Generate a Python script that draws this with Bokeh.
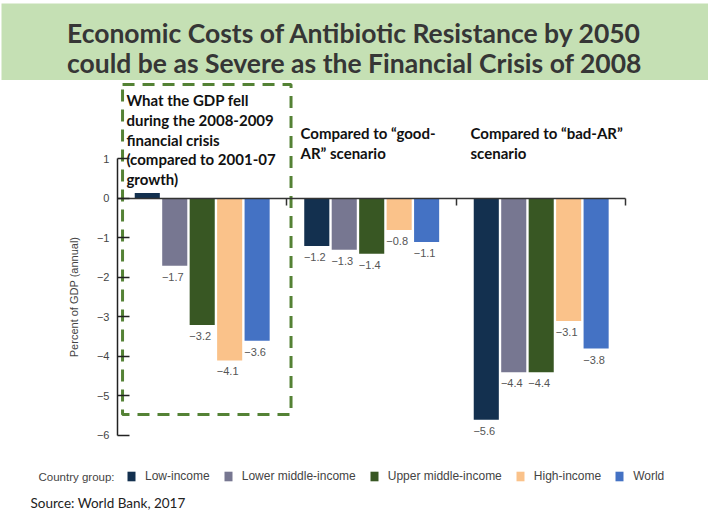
from bokeh.plotting import figure
from bokeh.models import Range1d, LinearAxis, FixedTicker, Legend, LegendItem, Label
from bokeh.layouts import column
from bokeh.core.properties import value
from bokeh.embed import file_html
from bokeh.resources import INLINE

# ---------------- data ----------------
TITLE_LINES = ["Economic Costs of Antibiotic Resistance by 2050",
               "could be as Severe as the Financial Crisis of 2008"]
GROUP_CENTERS = [0.5, 1.5, 2.5]   # crisis 2008-09, vs good-AR, vs bad-AR
SERIES = ["Low-income", "Lower middle-income", "Upper middle-income", "High-income", "World"]
COLORS = ["#13304f", "#777791", "#385723", "#fac28a", "#4472c4"]
low_income = [0.14, -1.2, -5.6]
lower_middle_income = [-1.7, -1.3, -4.4]
upper_middle_income = [-3.2, -1.4, -4.4]
high_income = [-4.1, -0.8, -3.1]
world = [-3.6, -1.1, -3.8]
Y_TICKS = [1, 0, -1, -2, -3, -4, -5, -6]
Y_TICK_LABELS = ["1", "0", "\u22121", "\u22122", "\u22123", "\u22124", "\u22125", "\u22126"]
NOTES = ["What the GDP fell\nduring the 2008-2009\nfinancial crisis\n(compared to 2001-07\ngrowth)",
         "Compared to \u201cgood-\nAR\u201d scenario",
         "Compared to \u201cbad-AR\u201d\nscenario"]
NOTE_X = [0.053, 1.08, 2.083]
NOTE_Y = [2.72, 1.88, 1.88]
# dashed frame around the crisis group
BOX = dict(left=0.03, right=1.024, top=2.886, bottom=-5.468)

W = 708
ARIAL = "Liberation Sans"

# ---------------- banner (pixel-like ranges) ----------------
banner = figure(width=W, height=80, x_range=Range1d(0, 708), y_range=Range1d(80, 0),
                output_backend="svg", toolbar_location=None, min_border=0,
                x_axis_type=None, y_axis_type=None,
                background_fill_color="white", border_fill_color="white",
                outline_line_color=None)
banner.quad(left=[1], right=[708], top=[3], bottom=[80], fill_color="#c5e0b4", line_color=None)
banner.text(x=[354, 354], y=[32, 62], text=TITLE_LINES,
            text_align="center", text_baseline="middle",
            text_font=value("Lato"), text_font_size="26.5px", text_font_style="bold",
            text_color="#363636")

# ---------------- chart ----------------
chart = figure(width=W, height=430,
               x_range=Range1d(-0.690, 3.487), y_range=Range1d(-7.899, 2.987),
               output_backend="svg", toolbar_location=None, min_border=0,
               x_axis_type=None, y_axis_type=None, outline_line_color=None,
               background_fill_color="white", border_fill_color="white")

yaxis = LinearAxis(fixed_location=0, bounds=(-6, 1),
                   ticker=FixedTicker(ticks=Y_TICKS),
                   major_label_overrides=dict(zip(Y_TICKS, Y_TICK_LABELS)),
                   axis_label="Percent of GDP (annual)",
                   major_tick_in=12, major_tick_out=0,
                   minor_tick_in=0, minor_tick_out=0,
                   axis_line_width=1.5, axis_line_color="#222222",
                   major_tick_line_width=1.5, major_tick_line_color="#222222",
                   major_label_standoff=8, axis_label_standoff=14,
                   major_label_text_font=ARIAL, major_label_text_font_size="11px",
                   major_label_text_color="#444444",
                   axis_label_text_font=ARIAL, axis_label_text_font_size="11px",
                   axis_label_text_font_style="normal", axis_label_text_color="#444444")
chart.add_layout(yaxis, "left")

xaxis = LinearAxis(fixed_location=0, bounds=(0, 3),
                   ticker=FixedTicker(ticks=[1, 2, 3]),
                   major_label_overrides={1: "", 2: "", 3: ""},
                   major_tick_in=0, major_tick_out=7,
                   minor_tick_in=0, minor_tick_out=0,
                   axis_line_width=1.5, axis_line_color="#333333",
                   major_tick_line_width=1.5, major_tick_line_color="#333333",
                   major_label_text_font_size="1px")
chart.add_layout(xaxis, "below")

series_values = [low_income, lower_middle_income, upper_middle_income, high_income, world]
offsets = [-0.324, -0.162, 0.0, 0.162, 0.324]
items = []
for name, vals, color, off in zip(SERIES, series_values, COLORS, offsets):
    xs = [g + off for g in GROUP_CENTERS]
    r = chart.vbar(x=xs, top=vals, bottom=0, width=0.148,
                   fill_color=color, line_color=None)
    items.append(LegendItem(label=name, renderers=[r]))
    labels = ["\u2212%.1f" % abs(v) if v < 0 else "" for v in vals]
    chart.text(x=xs, y=vals, text=labels, text_align="center", text_baseline="top",
               x_offset=-2, y_offset=7, text_font=value(ARIAL),
               text_font_size="11px", text_color="#555555")

chart.quad(left=[BOX["left"]], right=[BOX["right"]], top=[BOX["top"]], bottom=[BOX["bottom"]],
           fill_color=None, line_color="#548235", line_width=3, line_dash="12 8")

chart.text(x=NOTE_X, y=NOTE_Y, text=NOTES, text_align="left", text_baseline="top",
           text_font=value("Lato"), text_font_size="15px", text_font_style="bold",
           text_line_height=1.1, text_color="#111111")

legend = Legend(items=items, orientation="horizontal", location=(126, 27),
                padding=0, margin=0, spacing=13, label_standoff=9,
                glyph_width=10, glyph_height=12, label_height=12,
                label_text_font=ARIAL, label_text_font_size="12px",
                label_text_color="#444444", border_line_color=None,
                background_fill_alpha=0)
chart.add_layout(legend)

chart.add_layout(Label(x=38, y=34, x_units="screen", y_units="screen",
                       text="Country group:", text_baseline="middle",
                       text_font=ARIAL, text_font_size="11.5px", text_color="#444444"))
chart.add_layout(Label(x=30, y=8, x_units="screen", y_units="screen",
                       text="Source: World Bank, 2017", text_baseline="middle",
                       text_font="Lato", text_font_size="13.5px", text_color="#222222"))

layout = column(banner, chart, spacing=0)
open("out.html", "w").write(file_html(layout, INLINE))
